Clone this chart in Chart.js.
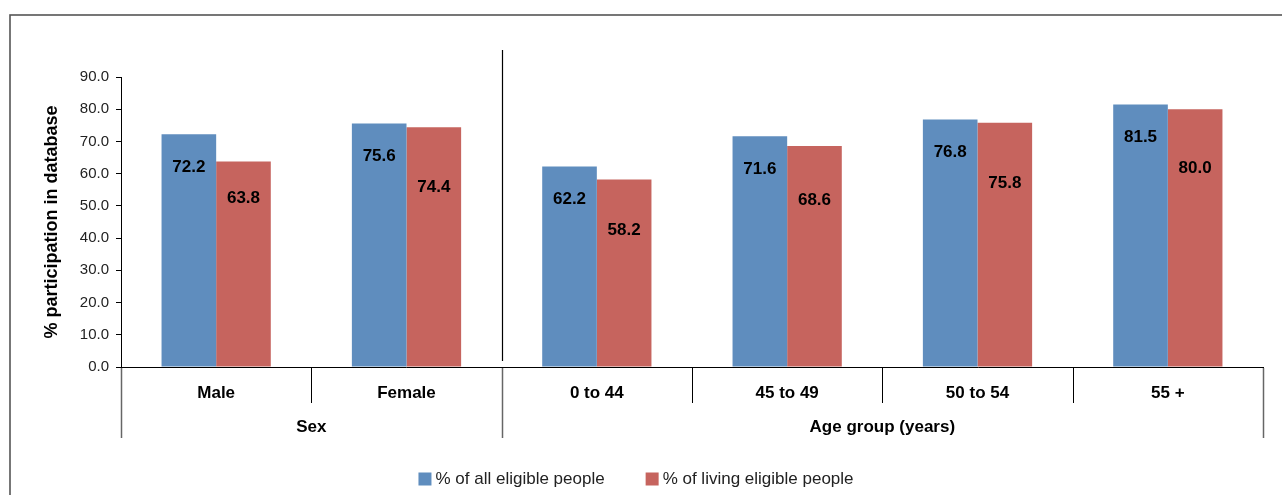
<!DOCTYPE html>
<html>
<head>
<meta charset="utf-8">
<script src="https://cdn.jsdelivr.net/npm/chart.js@4/dist/chart.umd.min.js"></script>
<style>
  html, body { margin: 0; padding: 0; background: #fff; }
  #wrap { width: 1282px; height: 495px; position: relative; }
</style>
</head>
<body>
<div id="wrap"><canvas id="participation"></canvas></div>
<script>
// categories and groups
const categories = ['Male', 'Female', '0 to 44', '45 to 49', '50 to 54', '55 +'];
const groupLabels = ['Sex', 'Age group (years)'];
const groupSizes = [2, 4];

// series
const allEligible = [72.2, 75.6, 62.2, 71.6, 76.8, 81.5];
const livingEligible = [63.8, 74.4, 58.2, 68.6, 75.8, 80.0];
const seriesNames = ['% of all eligible people', '% of living eligible people'];

// y axis
const yMin = 0;
const yMax = 90;
const yStep = 10;

const FONT = '"Liberation Sans", Arial, Helvetica, sans-serif';

const framePlugin = {
  id: 'frame',
  beforeDraw(chart) {
    const ctx = chart.ctx;
    ctx.save();
    ctx.fillStyle = '#fff';
    ctx.fillRect(0, 0, chart.width, chart.height);
    ctx.strokeStyle = '#555';
    ctx.lineWidth = 1.6;
    ctx.strokeRect(10, 15, chart.width + 20, chart.height + 20);
    ctx.restore();
  }
};

// value labels, blue one inside the top, red one just below it
const valueLabels = {
  id: 'valueLabels',
  afterDatasetsDraw(chart) {
    const ctx = chart.ctx;
    const m0 = chart.getDatasetMeta(0).data;
    const m1 = chart.getDatasetMeta(1).data;
    ctx.save();
    ctx.font = 'bold 17px ' + FONT;
    ctx.fillStyle = '#000';
    ctx.textAlign = 'center';
    ctx.textBaseline = 'middle';
    m0.forEach((bar, i) => {
      const y0 = bar.y + 33;
      ctx.fillText(allEligible[i].toFixed(1), bar.x, y0);
      ctx.fillText(livingEligible[i].toFixed(1), m1[i].x, y0 + 31);
    });
    ctx.restore();
  }
};

// category separators, group labels, legend
const groupAxis = {
  id: 'groupAxis',
  afterDraw(chart) {
    const ctx = chart.ctx;
    const x = chart.scales.x;
    const area = chart.chartArea;
    const bottom = area.bottom;
    const half = (x.getPixelForTick(1) - x.getPixelForTick(0)) / 2;
    ctx.save();

    // short separators between categories
    ctx.strokeStyle = '#000';
    ctx.lineWidth = 1;
    for (let i = 1; i < categories.length; i++) {
      const px = Math.round(x.getPixelForTick(i) - half) + 0.5;
      ctx.beginPath();
      ctx.moveTo(px, bottom);
      ctx.lineTo(px, bottom + 36);
      ctx.stroke();
    }

    // group borders and labels
    let start = 0;
    const edges = [];
    groupSizes.forEach((n, g) => {
      const left = x.getPixelForTick(start) - half;
      const right = x.getPixelForTick(start + n - 1) + half;
      edges.push(left, right);
      ctx.font = 'bold 17px ' + FONT;
      ctx.fillStyle = '#000';
      ctx.textAlign = 'center';
      ctx.textBaseline = 'middle';
      ctx.fillText(groupLabels[g], (left + right) / 2, bottom + 60);
      start += n;
    });
    ctx.strokeStyle = '#666';
    ctx.lineWidth = 1.5;
    [...new Set(edges.map(e => Math.round(e)))].forEach(e => {
      ctx.beginPath();
      ctx.moveTo(e + 0.5, bottom + 1);
      ctx.lineTo(e + 0.5, bottom + 71);
      ctx.stroke();
    });

    // divider line between groups inside the plot
    const div = Math.round(x.getPixelForTick(groupSizes[0]) - half) + 0.5;
    ctx.strokeStyle = '#000';
    ctx.lineWidth = 1.2;
    ctx.beginPath();
    ctx.moveTo(div, area.top - 27);
    ctx.lineTo(div, bottom - 6);
    ctx.stroke();

    // legend
    ctx.font = '17px ' + FONT;
    ctx.textAlign = 'left';
    ctx.textBaseline = 'middle';
    const box = 13, gap = 4, spacing = 41;
    const widths = seriesNames.map(s => box + gap + ctx.measureText(s).width);
    const total = widths.reduce((a, b) => a + b, 0) + spacing * (widths.length - 1);
    let lx = chart.width / 2 - 5 - total / 2;
    const ly = 479;
    chart.data.datasets.forEach((ds, i) => {
      ctx.fillStyle = ds.backgroundColor;
      ctx.fillRect(lx, ly - box / 2, box, box);
      ctx.fillStyle = '#222';
      ctx.fillText(seriesNames[i], lx + box + gap, ly);
      lx += widths[i] + spacing;
    });
    ctx.restore();
  }
};

let config = {
  type: 'bar',
  data: {
    labels: categories,
    datasets: [
      {
        label: seriesNames[0],
        data: allEligible,
        backgroundColor: '#5f8dbe',
        categoryPercentage: 0.574,
        barPercentage: 1.0,
      },
      {
        label: seriesNames[1],
        data: livingEligible,
        backgroundColor: '#c6645e',
        categoryPercentage: 0.574,
        barPercentage: 1.0,
      },
    ],
  },
  options: {
    responsive: true,
    maintainAspectRatio: false,
    animation: false,
    layout: {
      padding: { top: 77, right: 19, left: 0, bottom: 0 }
    },
    plugins: {
      legend: { display: false },
      tooltip: { enabled: false },
    },
    scales: {
      x: {
        grid: { display: false },
        border: { display: true, color: '#000', width: 1 },
        ticks: {
          color: '#000',
          font: { family: FONT, size: 17, weight: 'bold' },
          padding: 8,
          maxRotation: 0,
        },
        afterFit(scale) { scale.height = 128; },
      },
      y: {
        min: yMin,
        max: yMax,
        border: { display: true, color: '#000', width: 1 },
        grid: {
          drawOnChartArea: false,
          drawTicks: true,
          tickLength: 5,
          color: '#000',
        },
        ticks: {
          stepSize: yStep,
          color: '#222',
          padding: 7,
          font: { family: FONT, size: 15 },
          callback: (v) => Number(v).toFixed(1),
        },
        title: {
          display: true,
          text: '% participation in database',
          color: '#000',
          font: { family: FONT, size: 18, weight: 'bold', lineHeight: 1.2 },
          padding: { top: 41, bottom: 0 },
        },
        afterFit(scale) { scale.width = 121; },
      },
    },
  },
  plugins: [framePlugin, valueLabels, groupAxis],
};

let ctx = document.getElementById('participation').getContext('2d');
window.myBar = new Chart(ctx, config);
</script>
</body>
</html>
